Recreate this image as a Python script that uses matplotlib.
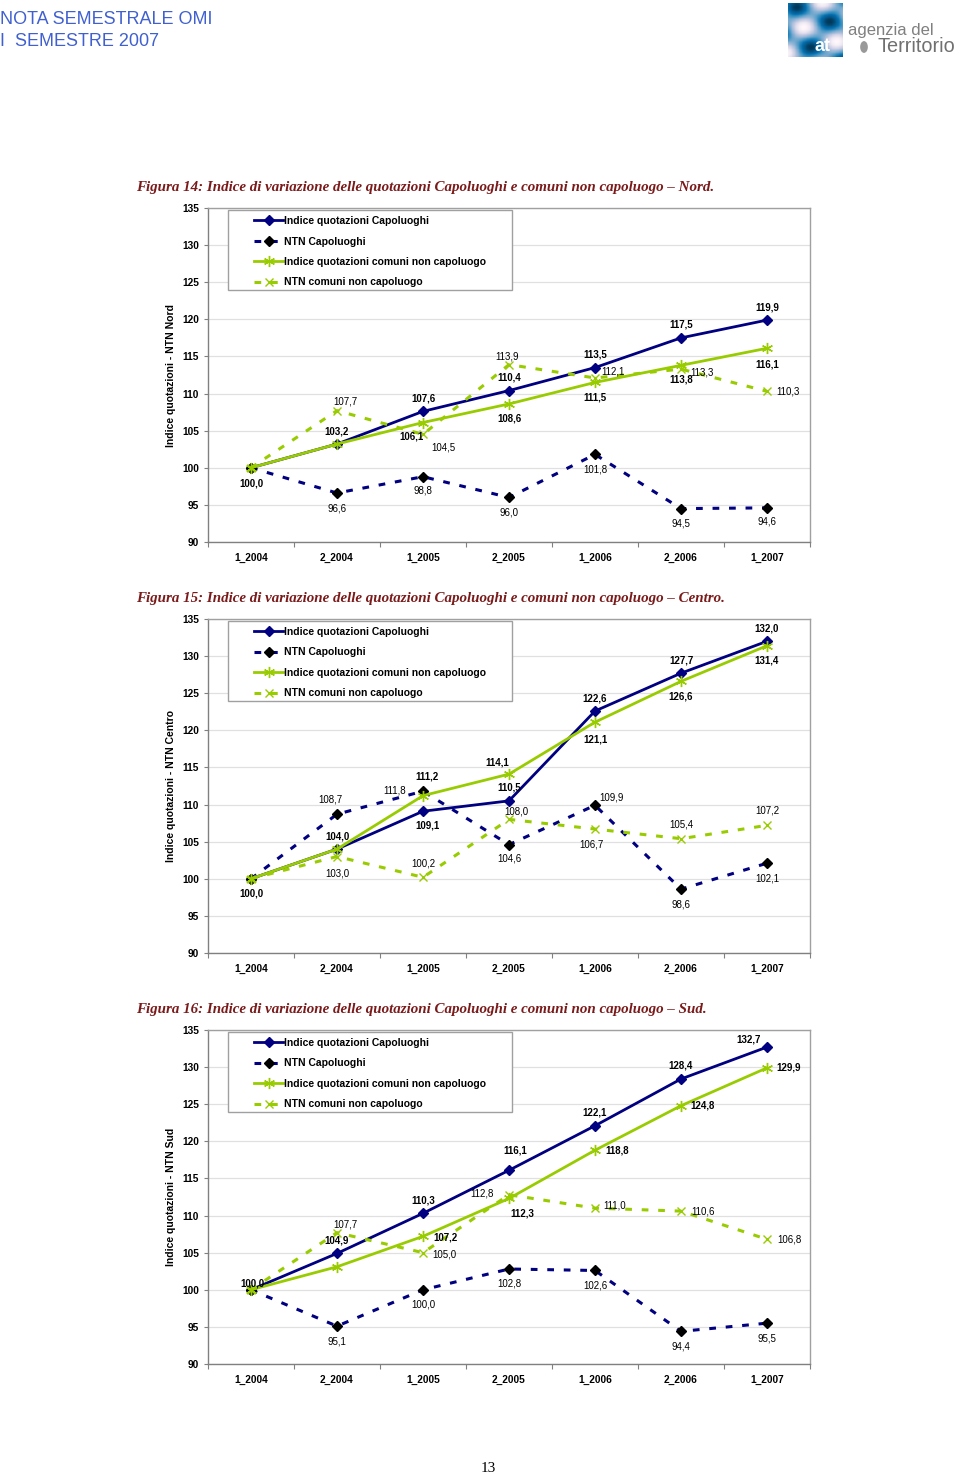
import numpy as np
import matplotlib.pyplot as plt
from matplotlib.patches import Rectangle, Circle

plt.rcParams['font.family'] = ['Liberation Sans', 'DejaVu Sans']

periods = ['1_2004', '2_2004', '1_2005', '2_2005', '1_2006', '2_2006', '1_2007']
series_names = ['Indice quotazioni Capoluoghi', 'NTN Capoluoghi',
                'Indice quotazioni comuni non capoluogo', 'NTN comuni non capoluogo']

# Nord
nord_cap = [100.0, 103.2, 107.6, 110.4, 113.5, 117.5, 119.9]
nord_ntn_cap = [100.0, 96.6, 98.8, 96.0, 101.8, 94.5, 94.6]
nord_com = [100.0, 103.2, 106.1, 108.6, 111.5, 113.8, 116.1]
nord_ntn_com = [100.0, 107.7, 104.5, 113.9, 112.1, 113.3, 110.3]

# Centro
centro_cap = [100.0, 104.0, 109.1, 110.5, 122.6, 127.7, 132.0]
centro_ntn_cap = [100.0, 108.7, 111.8, 104.6, 109.9, 98.6, 102.1]
centro_com = [100.0, 104.0, 111.2, 114.1, 121.1, 126.6, 131.4]
centro_ntn_com = [100.0, 103.0, 100.2, 108.0, 106.7, 105.4, 107.2]

# Sud
sud_cap = [100.0, 104.9, 110.3, 116.1, 122.1, 128.4, 132.7]
sud_ntn_cap = [100.0, 95.1, 100.0, 102.8, 102.6, 94.4, 95.5]
sud_com = [100.0, 103.1, 107.2, 112.3, 118.8, 124.8, 129.9]
sud_ntn_com = [100.0, 107.7, 105.0, 112.8, 111.0, 110.6, 106.8]

# label offsets in pixels (None = no label)
nord_off = [
    [(0, -16), (0, 13), (0, 13), (0, 13), (0, 13), (0, 13), (0, 13)],
    [None, (0, -15), (0, -14), (0, -15), (0, -15), (0, -15), (0, -14)],
    [None, None, (-11, -14), (0, -15), (0, -15), (0, -14), (0, -16)],
    [None, (8, 9), (20, -13), (-2, 8), (18, 6), (21, -3), (21, 0)],
]
centro_off = [
    [(0, -15), (0, 13), (4, -14), (0, 13), (0, 13), (0, 13), (0, 13)],
    [None, (-7, 15), (-28, 1), (0, -14), (16, 8), (0, -15), (0, -15)],
    [None, None, (4, 19), (-12, 12), (0, -17), (0, -15), (0, -15)],
    [None, (0, -17), (0, 14), (7, 8), (-4, -15), (0, 14), (0, 15)],
]
sud_off = [
    [(1, 6), (0, 13), (0, 13), (6, 20), (0, 13), (0, 13), (-18, 8)],
    [None, (0, -15), (0, -15), (0, -15), (0, -15), (0, -15), (0, -15)],
    [None, None, (22, -1), (13, -15), (22, 0), (22, 0), (22, 0)],
    [None, (8, 8), (21, -2), (-27, 1), (20, 3), (22, 0), (22, 0)],
]

NAVY = '#000080'
GREEN = '#99cc00'
asterisk = (6, 2, 0)

styles = [
    dict(color=NAVY, lw=2.0, ls='-', marker='D', ms=5, mfc=NAVY, mec=NAVY),
    dict(color=NAVY, lw=2.2, ls=(0, (2.2, 3.2)), marker='D', ms=5.5, mfc='black', mec='black'),
    dict(color=GREEN, lw=2.0, ls='-', marker=asterisk, ms=8, mfc=GREEN, mec=GREEN, mew=1.0),
    dict(color=GREEN, lw=2.2, ls=(0, (2.2, 3.2)), marker='x', ms=6, mfc=GREEN, mec=GREEN, mew=1.0),
]
bold = [True, False, True, False]

fig = plt.figure(figsize=(9.6, 14.76), dpi=100)
W, H = 960, 1476


def fx(px):
    return px / W


def fy(py):
    return 1 - py / H


def fmt(v):
    return f'{v:.1f}'.replace('.', ',')


def draw_panel(top_px, data, offsets, ylabel, caption):
    bottom_px = top_px + 334
    ax = fig.add_axes([fx(208), fy(bottom_px), 602 / W, 334 / H])
    x = np.arange(len(periods))
    for vals, st, offs, b in zip(data, styles, offsets, bold):
        ax.plot(x, vals, **st)
        for xi, v, o in zip(x, vals, offs):
            if o is None:
                continue
            ax.annotate(fmt(v), (xi, v), xytext=o, textcoords='offset pixels',
                        ha='center', va='center', fontsize=7,
                        fontweight='bold' if b else 'normal', zorder=10)
    ax.set_xlim(-0.5, 6.5)
    ax.set_ylim(90, 135)
    ax.set_yticks(range(90, 136, 5))
    ax.set_yticklabels([str(t) for t in range(90, 136, 5)], fontsize=7.3,
                       fontweight='bold')
    ax.set_xticks(np.arange(-0.5, 7, 1))
    ax.set_xticklabels([])
    ax.set_xticks(x, minor=True)
    ax.set_xticklabels(periods, minor=True, fontsize=7.3, fontweight='bold')
    ax.tick_params(axis='x', which='minor', length=0, pad=8)
    ax.tick_params(axis='x', which='major', length=3.5, color='#808080', direction='out')
    ax.tick_params(axis='y', length=3, color='#808080', pad=3.5)
    ax.grid(axis='y', color='#e0e0e0', lw=0.9)
    ax.set_axisbelow(True)
    for s in ax.spines.values():
        s.set_color('#a0a0a0')
        s.set_linewidth(1.0)
    ax.spines['left'].set_color('#808080')
    ax.spines['bottom'].set_color('#808080')

    # legend box
    ax.add_patch(Rectangle((20 / 602, 1 - 82 / 334), 284 / 602, 80 / 334,
                           transform=ax.transAxes, facecolor='white',
                           edgecolor='#a0a0a0', lw=1.0, zorder=5))
    handles = ax.get_lines()[:4]
    leg = ax.legend(handles, series_names, loc='upper left', frameon=False,
                    bbox_to_anchor=(44 / 602, 1 - 6 / 334), borderaxespad=0,
                    borderpad=0.2, handlelength=2.8, handletextpad=0.1,
                    labelspacing=1.0, prop={'size': 7.5, 'weight': 'bold'})
    leg.set_zorder(6)

    fig.text(fx(171), fy(top_px + 167), ylabel, rotation=90, ha='center',
             va='center', fontsize=7.5, fontweight='bold')
    fig.text(fx(136), fy(top_px - 21), caption, ha='left', va='center',
             fontsize=10.85, family='Liberation Serif', style='italic',
             fontweight='bold', color='#7a1a1a')
    return ax


draw_panel(208, [nord_cap, nord_ntn_cap, nord_com, nord_ntn_com], nord_off,
           'Indice quotazioni - NTN Nord',
           'Figura 14: Indice di variazione delle quotazioni Capoluoghi e comuni non capoluogo \u2013 Nord.')
draw_panel(619, [centro_cap, centro_ntn_cap, centro_com, centro_ntn_com], centro_off,
           'Indice quotazioni - NTN Centro',
           'Figura 15: Indice di variazione delle quotazioni Capoluoghi e comuni non capoluogo \u2013 Centro.')
draw_panel(1030, [sud_cap, sud_ntn_cap, sud_com, sud_ntn_com], sud_off,
           'Indice quotazioni - NTN Sud',
           'Figura 16: Indice di variazione delle quotazioni Capoluoghi e comuni non capoluogo \u2013 Sud.')

# header
fig.text(fx(0), fy(20), 'NOTA SEMESTRALE OMI', ha='left', va='center',
         fontsize=13, color='#4060d0')
fig.text(fx(0), fy(41), 'I  SEMESTRE 2007', ha='left', va='center',
         fontsize=13, color='#4060d0')

# logo
lax = fig.add_axes([fx(788), fy(57), 55 / W, 54 / H])
gy, gx = np.mgrid[0:40, 0:40]
lax.imshow(np.sin(gx / 5.0 + gy / 7.0) + np.cos(gy / 4.0 - gx / 9.0),
           cmap='PuBu', aspect='auto')
lax.text(0.62, 0.2, 'at', transform=lax.transAxes, ha='center', va='center',
         color='white', fontsize=13, fontweight='bold')
lax.axis('off')
fig.text(fx(848), fy(30), 'agenzia del', ha='left', va='center',
         fontsize=12, color='#808080')
fig.patches.append(Circle((fx(864), fy(47)), 0.004, transform=fig.transFigure,
                          facecolor='#999999', edgecolor='none'))
fig.text(fx(877), fy(46), 'Territorio', ha='left', va='center',
         fontsize=14.3, color='#707070')

# page number
fig.text(fx(488), fy(1468), '13', ha='center', va='center', fontsize=11,
         family='Liberation Serif')

fig.savefig('out.png', dpi=100)
